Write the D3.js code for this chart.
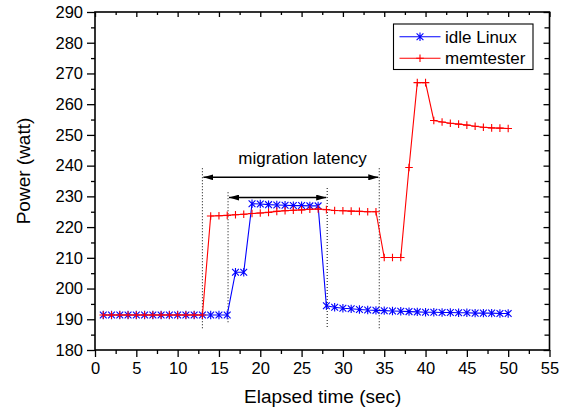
<!DOCTYPE html>
<html>
<head>
<meta charset="utf-8">
<script src="https://cdn.jsdelivr.net/npm/d3@7"></script>
<style>
  html, body { margin: 0; padding: 0; background: #fff; }
  svg { display: block; }
  text { font-family: "Liberation Sans", Arial, sans-serif; fill: #000; }
</style>
</head>
<body>
<svg id="chart" width="569" height="411"></svg>
<script>
// Elapsed time in seconds (one sample per second)
const seconds = d3.range(1, 51);

// Power draw in watts
const idleLinux = [
  191.4, 191.4, 191.4, 191.4, 191.4, 191.4, 191.4, 191.4, 191.4, 191.4,
  191.4, 191.4, 191.4, 191.4, 191.4, 191.4, 205.3, 205.3, 227.6, 227.5,
  227.3, 227.2, 227.1, 227.0, 227.0, 226.9, 226.9, 194.4, 193.9, 193.6,
  193.4, 193.2, 193.0, 192.9, 192.8, 192.7, 192.6, 192.5, 192.4, 192.3,
  192.3, 192.2, 192.2, 192.1, 192.1, 192.0, 192.0, 192.0, 191.9, 191.9
];
const memtester = [
  191.4, 191.4, 191.4, 191.4, 191.4, 191.4, 191.4, 191.4, 191.4, 191.4,
  191.4, 191.4, 191.4, 223.6, 223.7, 223.8, 224.0, 224.2, 224.4, 224.6,
  224.8, 225.1, 225.3, 225.5, 225.6, 225.8, 225.9, 225.7, 225.4, 225.3,
  225.2, 225.1, 225.0, 225.0, 210.1, 210.1, 210.1, 239.4, 267.0, 267.0,
  254.7, 254.2, 253.8, 253.5, 253.2, 252.8, 252.5, 252.3, 252.2, 252.1
];

const seriesNames = ["idle Linux", "memtester"];

// Axis ticks
const xMajorTicks = d3.range(0, 56, 5);
const xMinorTicks = d3.range(2.5, 55, 5);
const yMajorTicks = d3.range(180, 291, 10);
const yMinorTicks = d3.range(185, 290, 10);

// Migration markers: dotted guides [x, yLow, yHigh] and double arrows [x1, x2, y]
const guideLines = [
  [13.0, 187.1, 239.2],
  [16.1, 189.0, 231.4],
  [28.1, 187.5, 233.0],
  [34.4, 187.1, 239.2]
];
const spanArrows = [
  [13.0, 34.4, 236.2],
  [16.1, 28.1, 229.6]
];
const annotationText = "migration latency";
const annotationPos = [25.0, 240.5];

const svg = d3.select("#chart");
const plotLeft = 95, plotRight = 549.5, plotTop = 12, plotBottom = 350;

const x = d3.scaleLinear().domain([0, 55]).range([plotLeft, plotRight]);
const y = d3.scaleLinear().domain([180, 290]).range([plotBottom, plotTop]);

const FONT_TICK = 16.5;

// ---- axes ----
function styleAxis(g) {
  g.select(".domain").remove();
  g.selectAll(".tick line").attr("stroke", "#000").attr("stroke-width", 1.3);
  g.selectAll(".tick text").attr("font-size", FONT_TICK)
    .attr("font-family", '"Liberation Sans", Arial, sans-serif').attr("fill", "#000");
}

// bottom
svg.append("g").attr("transform", `translate(0,${plotBottom})`)
  .call(d3.axisBottom(x).tickValues(xMajorTicks).tickSize(7).tickPadding(5).tickFormat(d3.format("d")))
  .call(styleAxis);
svg.append("g").attr("transform", `translate(0,${plotBottom})`)
  .call(d3.axisBottom(x).tickValues(xMinorTicks).tickSize(4).tickFormat(""))
  .call(styleAxis);
// top (inward)
svg.append("g").attr("transform", `translate(0,${plotTop})`)
  .call(d3.axisTop(x).tickValues(xMajorTicks).tickSize(-5).tickFormat(""))
  .call(styleAxis);
svg.append("g").attr("transform", `translate(0,${plotTop})`)
  .call(d3.axisTop(x).tickValues(xMinorTicks).tickSize(-3).tickFormat(""))
  .call(styleAxis);
// left
svg.append("g").attr("transform", `translate(${plotLeft},0)`)
  .call(d3.axisLeft(y).tickValues(yMajorTicks).tickSize(8).tickPadding(4).tickFormat(d3.format("d")))
  .call(styleAxis);
svg.append("g").attr("transform", `translate(${plotLeft},0)`)
  .call(d3.axisLeft(y).tickValues(yMinorTicks).tickSize(4).tickFormat(""))
  .call(styleAxis);
// right (inward)
svg.append("g").attr("transform", `translate(${plotRight},0)`)
  .call(d3.axisRight(y).tickValues(yMajorTicks).tickSize(-6).tickFormat(""))
  .call(styleAxis);
svg.append("g").attr("transform", `translate(${plotRight},0)`)
  .call(d3.axisRight(y).tickValues(yMinorTicks).tickSize(-5).tickFormat(""))
  .call(styleAxis);

// frame
svg.append("rect")
  .attr("x", plotLeft).attr("y", plotTop)
  .attr("width", plotRight - plotLeft).attr("height", plotBottom - plotTop)
  .attr("fill", "none").attr("stroke", "#000").attr("stroke-width", 1.6);

// axis titles
svg.append("text")
  .attr("x", (plotLeft + plotRight) / 2 + 0.5).attr("y", 402.5)
  .attr("text-anchor", "middle").attr("font-size", 19)
  .text("Elapsed time (sec)");
svg.append("text")
  .attr("transform", `translate(29.5,${(plotTop + plotBottom) / 2 - 10}) rotate(-90)`)
  .attr("text-anchor", "middle").attr("font-size", 19)
  .text("Power (watt)");

// ---- migration annotation ----
const defs = svg.append("defs");
defs.append("marker").attr("id", "ah")
  .attr("viewBox", "0 0 10 6").attr("refX", 10).attr("refY", 3)
  .attr("markerUnits", "userSpaceOnUse")
  .attr("markerWidth", 10).attr("markerHeight", 6)
  .attr("orient", "auto-start-reverse")
  .append("path").attr("d", "M0,0 L10,3 L0,6 Z").attr("fill", "#000");

svg.append("g").selectAll("line").data(guideLines).join("line")
  .attr("x1", d => x(d[0])).attr("x2", d => x(d[0]))
  .attr("y1", d => y(d[1])).attr("y2", d => y(d[2]))
  .attr("stroke", "#222").attr("stroke-width", 1.1)
  .attr("stroke-dasharray", "1,2");

svg.append("g").selectAll("line").data(spanArrows).join("line")
  .attr("x1", d => x(d[0]) + 1).attr("x2", d => x(d[1]) - 1)
  .attr("y1", d => y(d[2])).attr("y2", d => y(d[2]))
  .attr("stroke", "#000").attr("stroke-width", 1.5)
  .attr("marker-start", "url(#ah)").attr("marker-end", "url(#ah)");

svg.append("text")
  .attr("x", x(annotationPos[0]) + 1).attr("y", y(annotationPos[1]))
  .attr("text-anchor", "middle").attr("font-size", 17)
  .text(annotationText);

// ---- series ----
const asteriskPath = "M0,-4.2L0,4.2M-3.4,-3.4L3.4,3.4M-3.4,3.4L3.4,-3.4";
const plusPath = "M-3.8,0L3.8,0M0,-3.8L0,3.8";

const series = [
  { name: seriesNames[0], values: idleLinux, color: "#0000ff", marker: asteriskPath },
  { name: seriesNames[1], values: memtester, color: "#ff0000", marker: plusPath }
];

const line = d3.line().x((d, i) => x(seconds[i])).y(d => y(d));

series.forEach(s => {
  const g = svg.append("g");
  g.append("path").datum(s.values)
    .attr("d", line).attr("fill", "none")
    .attr("stroke", s.color).attr("stroke-width", 1.1);
  g.selectAll("path.mk").data(s.values).join("path")
    .attr("class", "mk")
    .attr("transform", (d, i) => `translate(${x(seconds[i])},${y(d)})`)
    .attr("d", s.marker).attr("fill", "none")
    .attr("stroke", s.color).attr("stroke-width", 1.1);
});

// ---- legend ----
const lg = svg.append("g").attr("transform", "translate(393.5,24)");
lg.append("rect").attr("width", 139.5).attr("height", 45.5)
  .attr("fill", "#fff").attr("stroke", "#000").attr("stroke-width", 1.1);
series.forEach((s, i) => {
  const cy = 12.7 + i * 21.6;
  lg.append("line").attr("x1", 6).attr("x2", 47).attr("y1", cy).attr("y2", cy)
    .attr("stroke", s.color).attr("stroke-width", 1.1);
  lg.append("path").attr("transform", `translate(26.5,${cy})`)
    .attr("d", s.marker).attr("fill", "none")
    .attr("stroke", s.color).attr("stroke-width", 1.1);
  lg.append("text").attr("x", 51.5).attr("y", cy + 6)
    .attr("font-size", 17).text(s.name);
});
</script>
</body>
</html>
